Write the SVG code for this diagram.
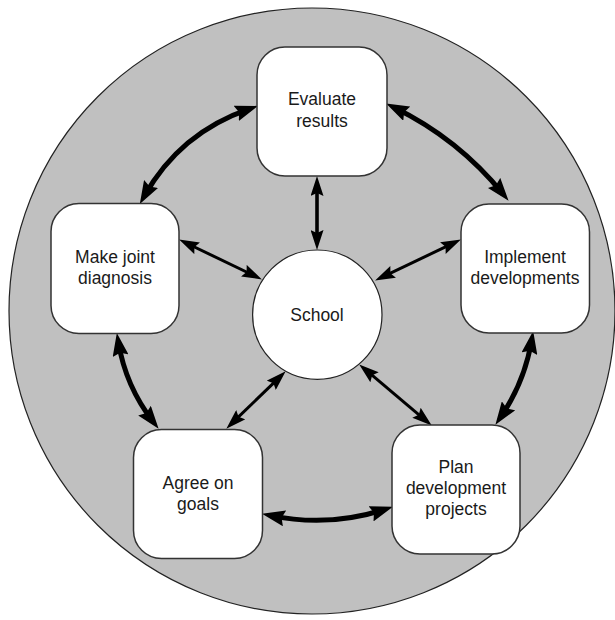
<svg xmlns="http://www.w3.org/2000/svg" width="615" height="620" viewBox="0 0 615 620">
<style>
.bg{fill:#c0c0c0;stroke:#222;stroke-width:1.2}
.box{fill:#fff;stroke:#333;stroke-width:1.5}
.hub{fill:#fff;stroke:#222;stroke-width:1.2}
.lbl{font-family:"Liberation Sans",Arial,sans-serif;font-size:17.5px;fill:#1a1a1a;text-anchor:middle}
.thick{fill:none;stroke:#000;stroke-width:5;marker-start:url(#hk);marker-end:url(#hk)}
.thin{fill:none;stroke:#000;stroke-width:3;marker-start:url(#hn);marker-end:url(#hn)}
.mid{fill:none;stroke:#000;stroke-width:3.6;marker-start:url(#hn);marker-end:url(#hn)}
</style>
<defs>
<marker id="hk" markerUnits="userSpaceOnUse" markerWidth="23" markerHeight="16" refX="14" refY="8" orient="auto-start-reverse" viewBox="0 0 23 16">
<path d="M0,0 L23,8 L0,16 L3,8 z" fill="#000"/>
</marker>
<marker id="hn" markerUnits="userSpaceOnUse" markerWidth="20" markerHeight="13" refX="11" refY="6.5" orient="auto-start-reverse" viewBox="0 0 20 13">
<path d="M0,0 L20,6.5 L0,13 L3,6.5 z" fill="#000"/>
</marker>
</defs>
<circle class="bg" cx="312" cy="311" r="303"/>
<g id="connectors">
<path class="thick" d="M249.5,108.8 Q179.9,132.5 144.2,196.2"/>
<path class="thick" d="M394.2,107.5 Q458.1,138.7 502.9,193.8"/>
<path class="thick" d="M531.7,339.9 Q524.7,382.1 500.5,417.4"/>
<path class="thick" d="M384.4,509.5 Q328.4,527.5 270.8,515.6"/>
<path class="thick" d="M153.1,421.7 Q125.6,386.2 118.3,341.9"/>
<path class="mid" d="M317,185 L317,241"/>
<path class="thin" d="M187.2,243.5 L253.8,275.5"/>
<path class="thin" d="M452.8,243.4 L383.2,276.6"/>
<path class="thin" d="M232.8,422.4 L279.2,377.6"/>
<path class="thin" d="M424.9,419.8 L366.1,370.2"/>
</g>
<g id="evaluate">
<rect class="box" x="257" y="47" width="130" height="129" rx="28"/>
<text class="lbl" x="322" y="105">Evaluate</text>
<text class="lbl" x="322" y="127">results</text>
</g>
<g id="diagnosis">
<rect class="box" x="51" y="203.5" width="128" height="130" rx="28"/>
<text class="lbl" x="115" y="263">Make joint</text>
<text class="lbl" x="115" y="284">diagnosis</text>
</g>
<g id="implement">
<rect class="box" x="461" y="204" width="128.5" height="129" rx="28"/>
<text class="lbl" x="525" y="263">Implement</text>
<text class="lbl" x="525" y="284">developments</text>
</g>
<g id="goals">
<rect class="box" x="133.5" y="429.5" width="129" height="129" rx="28"/>
<text class="lbl" x="198" y="489">Agree on</text>
<text class="lbl" x="198" y="510">goals</text>
</g>
<g id="plan">
<rect class="box" x="392" y="425" width="128" height="129" rx="28"/>
<text class="lbl" x="456" y="473">Plan</text>
<text class="lbl" x="456" y="494">development</text>
<text class="lbl" x="456" y="515">projects</text>
</g>
<g id="school">
<circle class="hub" cx="317.3" cy="314.7" r="64.7"/>
<text class="lbl" x="317" y="320.5">School</text>
</g>
</svg>
